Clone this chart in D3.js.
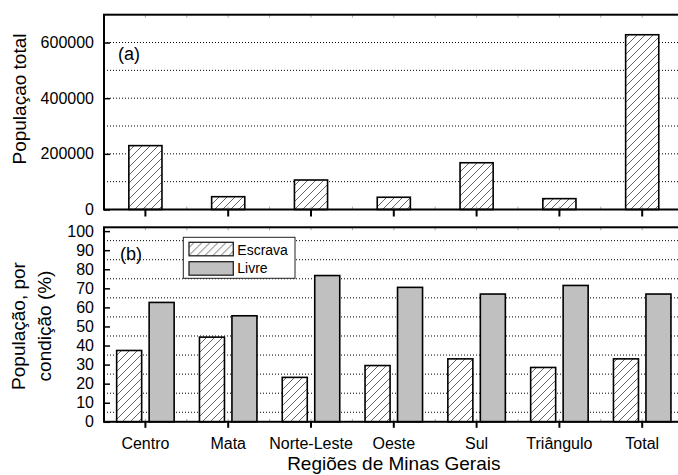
<!DOCTYPE html>
<html>
<head>
<meta charset="utf-8">
<script src="https://cdn.jsdelivr.net/npm/d3@7"></script>
<style>
  body { margin: 0; background: #fff; }
  text { font-family: "Liberation Sans", Arial, sans-serif; fill: #000; }
</style>
</head>
<body>
<script>
'use strict';

// Data =======================
var regions = ['Centro', 'Mata', 'Norte-Leste', 'Oeste', 'Sul', 'Triângulo', 'Total'];
var totalPop = [229500, 46000, 106000, 44000, 168000, 39000, 628000];
var escravaPct = [37.4, 44.4, 23.3, 29.5, 33.0, 28.5, 33.0];
var livrePct = [62.6, 55.6, 76.7, 70.5, 67.0, 71.5, 67.0];
var seriesNames = ['Escrava', 'Livre'];
var topTicks = [0, 200000, 400000, 600000];
var topGrid = [100000, 200000, 300000, 400000, 500000, 600000];
var botTicks = [0, 10, 20, 30, 40, 50, 60, 70, 80, 90, 100];
var botGrid = [5, 15, 25, 35, 45, 55, 65, 75, 85, 95];

//Sizing things.
var width = 678, height = 475;
var left = 104, right = 683.6;
var topPanel = { top: 14.7, bottom: 209.5 };
var botPanel = { top: 227.3, bottom: 421.8 };

var svg = d3.select('body').append('svg')
    .attr('width', width)
    .attr('height', height);

// hatch pattern for the Escrava bars
var defs = svg.append('defs');
var hatch = defs.append('pattern')
    .attr('id', 'hatch')
    .attr('patternUnits', 'userSpaceOnUse')
    .attr('width', 8)
    .attr('height', 8);
hatch.append('rect').attr('width', 8).attr('height', 8).attr('fill', '#fff');
hatch.append('path')
    .attr('d', 'M-2,2 L2,-2 M0,8 L8,0 M6,10 L10,6')
    .attr('stroke', '#555')
    .attr('stroke-width', 0.9);

//Scales
var x = d3.scaleBand().domain(regions).range([left, right]);
var bw = x.bandwidth();
var xSub = d3.scaleBand().domain(seriesNames)
    .range([bw / 2 - 28.75, bw / 2 + 28.75])
    .paddingInner(0.23);

var yTop = d3.scaleLinear().domain([0, 700000]).range([topPanel.bottom, topPanel.top]);
var yBot = d3.scaleLinear().domain([0, 102]).range([botPanel.bottom, botPanel.top]);

// dotted grid lines (drawn first, bars sit on top)
function grid(scale, values) {
  svg.append('g').selectAll('line')
    .data(values)
    .enter().append('line')
    .attr('x1', left).attr('x2', right)
    .attr('y1', function (d) { return scale(d); })
    .attr('y2', function (d) { return scale(d); })
    .attr('stroke', '#000')
    .attr('stroke-width', 1)
    .attr('stroke-dasharray', '1,2');
}
grid(yTop, topGrid);
grid(yBot, botGrid);

// Panel (a) bars
svg.append('g').selectAll('rect')
  .data(totalPop)
  .enter().append('rect')
  .attr('x', function (d, i) { return x(regions[i]) + bw * 0.3; })
  .attr('width', bw * 0.4)
  .attr('y', function (d) { return yTop(d); })
  .attr('height', function (d) { return yTop(0) - yTop(d); })
  .attr('fill', 'url(#hatch)')
  .attr('stroke', '#000')
  .attr('stroke-width', 1.6);

// Panel (b) bars
var pctRows = regions.map(function (r, i) {
  return [{ region: r, key: 'Escrava', v: escravaPct[i] }, { region: r, key: 'Livre', v: livrePct[i] }];
});
svg.append('g').selectAll('g')
  .data(pctRows)
  .enter().append('g')
  .selectAll('rect')
  .data(function (d) { return d; })
  .enter().append('rect')
  .attr('x', function (d) { return x(d.region) + xSub(d.key); })
  .attr('width', xSub.bandwidth())
  .attr('y', function (d) { return yBot(d.v); })
  .attr('height', function (d) { return yBot(0) - yBot(d.v); })
  .attr('fill', function (d) { return d.key === 'Escrava' ? 'url(#hatch)' : '#c0c0c0'; })
  .attr('stroke', '#000')
  .attr('stroke-width', 1.6);

// light minor ticks along horizontal frame lines
var halfSteps = d3.range(0, regions.length * 2 + 1).map(function (k) { return left + k * bw / 2; });
function frameTicks(y, dir) {
  svg.append('g').selectAll('line')
    .data(halfSteps)
    .enter().append('line')
    .attr('x1', function (d) { return d; }).attr('x2', function (d) { return d; })
    .attr('y1', y).attr('y2', y + dir * 3)
    .attr('stroke', '#aaa')
    .attr('stroke-width', 1);
}
frameTicks(topPanel.top, 1);
frameTicks(topPanel.bottom, -1);
frameTicks(botPanel.top, 1);
frameTicks(botPanel.bottom, -1);

// left axes (ticks pointing inside)
function leftAxis(scale, ticks, minor) {
  var g = svg.append('g').attr('transform', 'translate(' + left + ',0)');
  g.call(d3.axisLeft(scale).tickValues(minor).tickSize(-3).tickFormat(''));
  g.call(d3.axisLeft(scale).tickValues(ticks).tickSize(-6).tickPadding(10).tickFormat(d3.format('d')));
  g.selectAll('.domain').remove();
  g.selectAll('line').attr('stroke-width', 1.5);
  g.selectAll('text').style('font-size', '16px').style('font-family', '"Liberation Sans", Arial, sans-serif');
}
leftAxis(yTop, topTicks, topGrid);
leftAxis(yBot, botTicks, botGrid);

// bottom axes
var axA = svg.append('g').attr('transform', 'translate(0,' + topPanel.bottom + ')')
  .call(d3.axisBottom(x).tickSize(7).tickFormat(''));
var axB = svg.append('g').attr('transform', 'translate(0,' + botPanel.bottom + ')')
  .call(d3.axisBottom(x).tickSize(6).tickPadding(10));
[axA, axB].forEach(function (g) {
  g.selectAll('.domain').remove();
  g.selectAll('line').attr('stroke-width', 2);
});
axB.selectAll('text').style('font-size', '16px').style('font-family', '"Liberation Sans", Arial, sans-serif');

// frames
[topPanel, botPanel].forEach(function (p) {
  svg.append('rect')
    .attr('x', left).attr('y', p.top)
    .attr('width', right - left).attr('height', p.bottom - p.top)
    .attr('fill', 'none')
    .attr('stroke', '#000')
    .attr('stroke-width', 2);
});

// panel labels
svg.append('text').attr('x', 118).attr('y', 60).style('font-size', '18px').text('(a)');
svg.append('text').attr('x', 120).attr('y', 260).style('font-size', '18px').text('(b)');

// legend
var legend = svg.append('g').attr('transform', 'translate(183.3,237.3)');
legend.append('rect')
  .attr('width', 111.7).attr('height', 41)
  .attr('fill', '#fff')
  .attr('stroke', '#222')
  .attr('stroke-width', 1);
seriesNames.forEach(function (name, i) {
  legend.append('rect')
    .attr('x', 5.7).attr('y', 5 + i * 19.4)
    .attr('width', 44.3).attr('height', 13.5)
    .attr('fill', name === 'Escrava' ? 'url(#hatch)' : '#c0c0c0')
    .attr('stroke', '#222')
    .attr('stroke-width', 1.3);
  legend.append('text')
    .attr('x', 54).attr('y', 17.7 + i * 18.3)
    .style('font-size', '14px')
    .text(name);
});

// axis titles
svg.append('text')
  .attr('transform', 'translate(26,99) rotate(-90)')
  .attr('text-anchor', 'middle')
  .style('font-size', '19px')
  .text('Populaçao total');

var yt = svg.append('text')
  .attr('transform', 'translate(25,326) rotate(-90)')
  .attr('text-anchor', 'middle')
  .style('font-size', '19px');
yt.append('tspan').attr('x', 0).attr('y', 0).text('População, por');
yt.append('tspan').attr('x', 0).attr('y', 26).text('condição (%)');

// x title sits right at the bottom edge, as in the original
svg.append('text')
  .attr('x', (left + right) / 2)
  .attr('y', 470)
  .attr('text-anchor', 'middle')
  .style('font-size', '19px')
  .text('Regiões de Minas Gerais');
</script>
</body>
</html>
